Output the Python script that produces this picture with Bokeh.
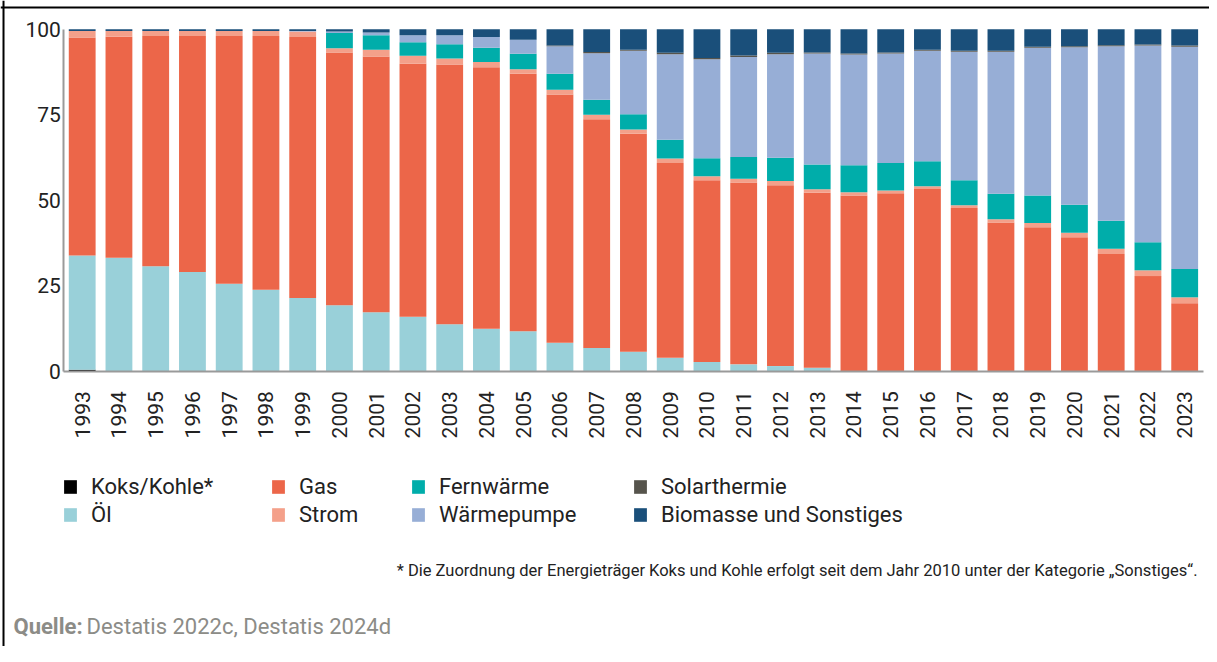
from math import pi
from bokeh.plotting import figure
from bokeh.models import (Range1d, Legend, LegendItem, Label, ColumnDataSource,
                          FixedTicker, LinearAxis, Span)
from bokeh.embed import file_html
from bokeh.resources import INLINE

years = ["1993", "1994", "1995", "1996", "1997", "1998", "1999", "2000", "2001", "2002",
         "2003", "2004", "2005", "2006", "2007", "2008", "2009", "2010", "2011", "2012",
         "2013", "2014", "2015", "2016", "2017", "2018", "2019", "2020", "2021", "2022", "2023"]

koks = [0.4, 0, 0, 0, 0, 0, 0, 0, 0, 0, 0, 0, 0, 0, 0, 0, 0, 0, 0, 0,
        0, 0, 0, 0, 0, 0, 0, 0, 0, 0, 0]
oel = [33.4, 33.2, 30.7, 29.0, 25.6, 23.8, 21.4, 19.3, 17.2, 15.9, 13.7, 12.4, 11.7, 8.3,
       6.8, 5.7, 3.9, 2.7, 2.0, 1.5, 1.0, 0, 0, 0, 0, 0, 0, 0, 0, 0, 0]
gas = [63.8, 64.6, 67.3, 69.0, 72.4, 74.2, 76.3, 73.9, 74.8, 74.0, 76.0, 76.5, 75.3, 72.6,
       66.9, 63.7, 57.0, 53.1, 53.2, 52.9, 51.2, 51.4, 52.0, 53.3, 47.7, 43.5, 42.1, 39.2,
       34.3, 27.8, 19.9]
strom = [1.9, 1.7, 1.5, 1.5, 1.5, 1.5, 1.6, 1.2, 2.0, 2.3, 1.7, 1.5, 1.3, 1.4, 1.3, 1.3,
         1.3, 1.2, 1.1, 1.2, 1.0, 0.9, 0.8, 0.8, 0.8, 0.9, 1.2, 1.3, 1.5, 1.7, 1.7]
fern = [0, 0, 0, 0, 0, 0, 0, 4.5, 4.2, 4.0, 4.2, 4.2, 4.5, 4.7, 4.4, 4.4, 5.5, 5.3, 6.3,
        6.8, 7.2, 7.9, 8.1, 7.3, 7.3, 7.5, 8.1, 8.2, 8.2, 8.2, 8.3]
wp = [0, 0, 0, 0, 0, 0, 0.2, 0.4, 0.8, 2.0, 2.6, 3.1, 4.1, 8.0, 13.6, 18.6, 25.0, 28.9,
      29.3, 30.3, 32.5, 32.4, 32.0, 32.3, 37.6, 41.5, 43.2, 46.0, 51.0, 57.5, 65.0]
solar = [0, 0, 0, 0, 0, 0, 0, 0, 0, 0, 0, 0, 0, 0.2, 0.3, 0.3, 0.4, 0.4, 0.4, 0.4, 0.3,
         0.3, 0.3, 0.3, 0.3, 0.3, 0.3, 0.3, 0.3, 0.3, 0.3]
bio = [0.5, 0.5, 0.5, 0.5, 0.5, 0.5, 0.5, 0.7, 1.0, 1.8, 1.8, 2.3, 3.1, 4.8, 6.7, 6.0,
       6.9, 8.4, 7.7, 6.9, 6.8, 7.1, 6.8, 6.0, 6.3, 6.3, 5.1, 5.0, 4.7, 4.5, 4.8]

series = ["koks", "oel", "gas", "strom", "fern", "wp", "solar", "bio"]
labels = ["Koks/Kohle*", "Öl", "Gas", "Strom", "Fernwärme", "Wärmepumpe",
          "Solarthermie", "Biomasse und Sonstiges"]
colors = ["#000000", "#99D0D9", "#EC6649", "#F4A08A", "#00ADAA", "#97AED6",
          "#56544C", "#1A4F7A"]
y_ticks = [0, 25, 50, 75, 100]
footnote = ("* Die Zuordnung der Energieträger Koks und Kohle erfolgt seit dem Jahr 2010 "
            "unter der Kategorie „Sonstiges“.")
source_label = "Quelle:"
source_text = "Destatis 2022c, Destatis 2024d"

idx = list(range(len(years)))
source = ColumnDataSource(dict(x=idx, koks=koks, oel=oel, gas=gas, strom=strom,
                               fern=fern, wp=wp, solar=solar, bio=bio))

FONT = "Roboto"
W, H = 1209, 646

# frame covers the whole canvas; axes are placed at fixed data locations
p = figure(width=W, height=H, output_backend="svg", toolbar_location=None,
           x_range=Range1d(-2.223, 30.675), y_range=Range1d(-80.50, 108.39),
           min_border=0, x_axis_type=None, y_axis_type=None)
p.outline_line_color = None
p.background_fill_color = "white"
p.border_fill_color = "white"

renderers = p.vbar_stack(series, x="x", width=0.73, color=colors, line_color=None,
                         source=source)

yaxis = LinearAxis(fixed_location=-0.5, bounds=(0, 100),
                   ticker=FixedTicker(ticks=y_ticks))
yaxis.major_tick_line_color = None
yaxis.minor_tick_line_color = None
yaxis.major_tick_out = 0
yaxis.major_label_standoff = 3
yaxis.axis_line_color = "#9a9a9a"
yaxis.axis_line_width = 2
yaxis.major_label_text_font = FONT
yaxis.major_label_text_font_size = "21px"
yaxis.major_label_text_color = "#222222"
p.add_layout(yaxis, "left")

xaxis = LinearAxis(fixed_location=0, bounds=(-0.5, 30.5),
                   ticker=FixedTicker(ticks=idx),
                   major_label_overrides={i: y for i, y in zip(idx, years)})
xaxis.major_tick_line_color = None
xaxis.minor_tick_line_color = None
xaxis.major_tick_out = 0
xaxis.major_label_orientation = pi / 2
xaxis.major_label_standoff = 20
xaxis.axis_line_color = "#9a9a9a"
xaxis.axis_line_width = 2
xaxis.major_label_text_font = FONT
xaxis.major_label_text_font_size = "21px"
xaxis.major_label_text_color = "#222222"
p.add_layout(xaxis, "below")

p.xgrid.grid_line_color = None
p.ygrid.ticker = FixedTicker(ticks=y_ticks)
p.ygrid.bounds = (0, 100)
p.ygrid.cross_bounds = (-0.5, 30.5)
p.ygrid.grid_line_color = "#d9d9d9"
p.ygrid.grid_line_width = 1

# frame of the picture: top and left border lines
p.add_layout(Span(location=106.34, dimension="width", line_color="#000000", line_width=2))
p.add_layout(Span(location=-2.141, dimension="height", line_color="#000000", line_width=2))

# legends: four columns of two items each
col_x = [62, 270, 410, 632]
for ci, cx in enumerate(col_x):
    items = [LegendItem(label=labels[k], renderers=[renderers[k]])
             for k in (2 * ci, 2 * ci + 1)]
    leg = Legend(items=items, location=(cx, 119), orientation="vertical",
                 glyph_width=16, glyph_height=17, label_height=21, label_standoff=13,
                 spacing=3, padding=0, margin=0, border_line_color=None,
                 background_fill_alpha=0, label_text_font=FONT,
                 label_text_font_size="22px", label_text_color="#222222")
    p.add_layout(leg, "center")

p.add_layout(Label(x=1197, y=76, x_units="screen", y_units="screen",
                   text=footnote, text_align="right", text_baseline="middle",
                   text_font=FONT, text_font_size="16.5px", text_color="#222222"))
p.add_layout(Label(x=13, y=20, x_units="screen", y_units="screen",
                   text=source_label, text_align="left", text_baseline="middle",
                   text_font=FONT, text_font_style="bold", text_font_size="22px",
                   text_color="#8c8c87"))
p.add_layout(Label(x=86, y=20, x_units="screen", y_units="screen",
                   text=source_text, text_align="left", text_baseline="middle",
                   text_font=FONT, text_font_size="22px", text_color="#8c8c87"))

open("out.html", "w").write(file_html(p, INLINE))
